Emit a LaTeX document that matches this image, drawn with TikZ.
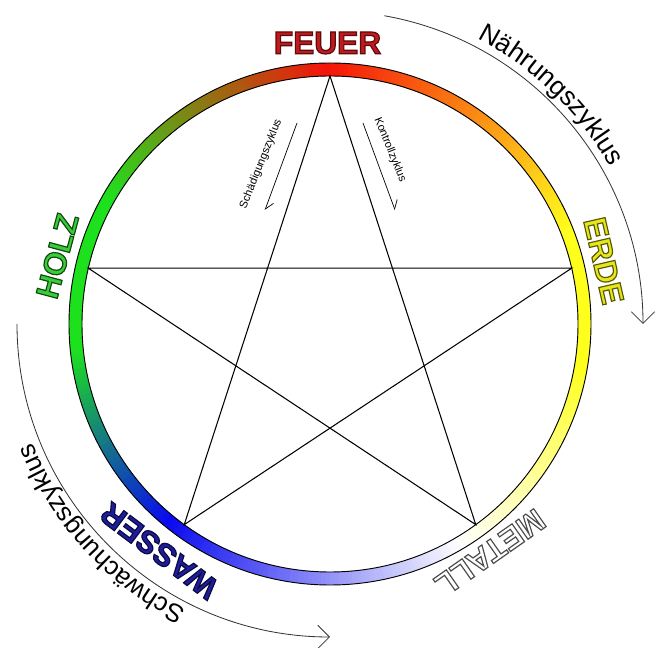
\documentclass[tikz,border=0pt]{standalone}
\usepackage{fontspec}
\setmainfont{Liberation Sans}
\usetikzlibrary{arrows.meta,decorations.text}
\definecolor{FeuerRed}{HTML}{BE1A1F}
\definecolor{HolzGreen}{HTML}{3ACC3A}
\definecolor{ErdeYellow}{HTML}{E6E61E}
\definecolor{WasserBlue}{HTML}{1E1E9C}
\definecolor{RingRed}{HTML}{F5140A}
\definecolor{RingYellow}{HTML}{FFFF1E}
\definecolor{RingGreen}{HTML}{1EE11E}
\definecolor{RingBlue}{HTML}{0A0AF0}
\definecolor{CycleGray}{HTML}{333333}
% Umrissschrift: #1 = Strichfarbe (rgb)
\newcommand{\outl}[2]{\special{pdf:literal direct 2 Tr 1 w #1 RG}#2\special{pdf:literal direct 0 Tr}}

\begin{document}
\begin{tikzpicture}[x=0.03cm,y=0.03cm,
    el/.style={font=\fontsize{27}{30}\selectfont\bfseries,inner sep=0pt},
    seg/.style={line width=3.9mm},
    rim/.style={draw=black,line width=0.8pt},
    pent/.style={line width=0.9pt,line join=miter},
    cy/.style={draw=CycleGray,line width=0.7pt,-{Straight Barb[length=3.5mm,width=7mm]}},
    sm/.style={font=\fontsize{9.5}{11}\selectfont,inner sep=0pt},
    hb/.style={line width=0.6pt,-{Straight Barb[left,length=2.4mm,width=3.4mm]}}]
  \useasboundingbox (0,0) rectangle (667,648);
  \begin{scope}[shift={(330,324)}]
    \foreach \sa/\ea/\ca/\cb in {-60/-10/white/RingYellow, -10/20/RingYellow/RingYellow,
        20/90/RingYellow/RingRed, 90/150/RingRed/RingGreen, 150/185/RingGreen/RingGreen,
        185/230/RingGreen/RingBlue, 230/300/RingBlue/white}{
      \pgfmathtruncatemacro{\n}{\ea-\sa-1}
      \foreach \i in {0,...,\n}{
        \pgfmathsetmacro{\ang}{\sa+\i}
        \pgfmathtruncatemacro{\pc}{100*\i/(\ea-\sa)}
        \draw[seg,draw={\cb!\pc!\ca}] (\ang:254.5) arc[start angle=\ang,end angle=\ang+1.4,radius=254.5];
      }
    }
    \draw[rim] (0,0) circle[radius=248];
    \draw[rim] (0,0) circle[radius=261];

    \coordinate (pf) at (90:248);
    \coordinate (pe) at (13:248);
    \coordinate (pm) at (306:248);
    \coordinate (pw) at (234:248);
    \coordinate (ph) at (167:248);
    \draw[pent] (pf) -- (pw) -- (pe) -- (ph) -- (pm) -- cycle;

    \node[el,text=FeuerRed] (feuer) at (90.5:281) {\outl{0.37 0.04 0.04}{FEUER}};
    \node[el,text=ErdeYellow,rotate=-77] (erde) at (13:281) {\outl{0.35 0.35 0}{ERDE}};
    \node[el,text=white,rotate=215] (metall) at (305:279) {\outl{0.3 0.3 0.3}{METALL}};
    \node[el,text=WasserBlue,rotate=143] (wasser) at (233:284) {\outl{0.04 0.04 0.25}{WASSER}};
    \node[el,text=HolzGreen,rotate=75] (holz) at (166:281) {\outl{0.06 0.29 0.06}{HOLZ}};

    \coordinate (nstart) at (80:313);
    \draw[cy] (nstart) arc[start angle=80,end angle=0,radius=313];
    \coordinate (sstart) at (180:313);
    \draw[cy] (sstart) arc[start angle=180,end angle=270,radius=313];
    \path[decorate,decoration={text along path,text align=center,
      text={|\fontsize{22.5}{25}\selectfont|Nährungszyklus}}]
      (76:321) arc[start angle=76,end angle=16,radius=321];
    \path[decorate,decoration={text along path,text align=center,
      text={|\fontsize{22}{25}\selectfont|Schwächungszyklus}}]
      (251:320) arc[start angle=251,end angle=194,radius=320];
  \end{scope}

  \node[sm,rotate=68] (schaed) at (261,484) {Schädigungszyklus};
  \node[sm,rotate=-68] (kontr) at (390,498) {Kontrollzyklus};
  \coordinate (sa) at (297,525);
  \coordinate (sb) at (265,438);
  \draw[hb] (sa) -- (sb);
  \coordinate (ka) at (363,525);
  \coordinate (kb) at (395,438);
  \draw[hb] (ka) -- (kb);
\end{tikzpicture}
\end{document}
